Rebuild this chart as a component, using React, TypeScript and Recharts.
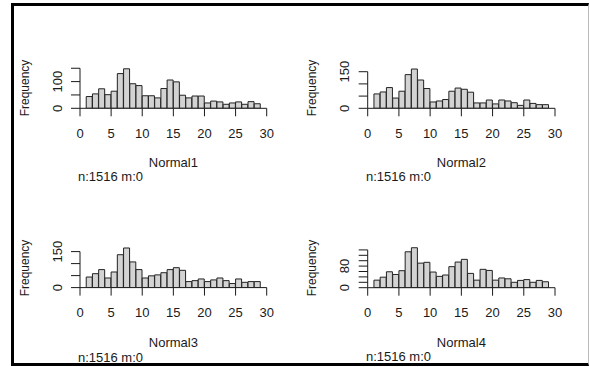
import React from 'react';
import { BarChart, Bar, XAxis, YAxis, ReferenceLine } from 'recharts';

const binMids = [1.5, 2.5, 3.5, 4.5, 5.5, 6.5, 7.5, 8.5, 9.5, 10.5, 11.5, 12.5, 13.5, 14.5, 15.5, 16.5, 17.5, 18.5, 19.5, 20.5, 21.5, 22.5, 23.5, 24.5, 25.5, 26.5, 27.5, 28.5];
const normal1 = [44, 54, 73, 51, 64, 130, 148, 92, 85, 47, 47, 39, 74, 106, 99, 49, 39, 46, 46, 20, 27, 24, 15, 20, 24, 15, 25, 17];
const normal2 = [59, 67, 85, 42, 70, 138, 161, 116, 81, 26, 30, 36, 70, 83, 78, 66, 22, 22, 34, 18, 34, 30, 23, 12, 34, 20, 15, 15];
const normal3 = [44, 58, 75, 40, 65, 137, 165, 107, 75, 40, 49, 53, 62, 75, 83, 72, 25, 29, 36, 25, 32, 40, 29, 17, 36, 22, 25, 25];
const normal4 = [28, 39, 59, 49, 63, 133, 148, 91, 94, 58, 42, 47, 78, 95, 105, 53, 28, 68, 64, 28, 36, 33, 20, 27, 30, 20, 27, 22];

const xTicks = [0, 5, 10, 15, 20, 25, 30];
const yTicks1 = [0, 50, 100, 150];
const yLabels1 = [0, 100];
const yTicks2 = [0, 50, 100, 150];
const yLabels2 = [0, 150];
const yTicks3 = [0, 50, 100, 150];
const yLabels3 = [0, 150];
const yTicks4 = [0, 20, 40, 60, 80, 100, 120, 140];
const yLabels4 = [0, 80];

const titles = ['Normal1', 'Normal2', 'Normal3', 'Normal4'];
const notes = ['n:1516 m:0', 'n:1516 m:0', 'n:1516 m:0', 'n:1516 m:0'];

const FONT = '"Liberation Sans", Arial, sans-serif';
const INK = '#1a1a1a';
const W = 590;
const H = 367;

type PanelCfg = {
  values: number[];
  yTicks: number[];
  yLabels: number[];
  title: string;
  note: string;
  left: number;
  right: number;
  baseline: number;
  top: number;
  yMax: number;
  freqX: number;
  freqY: number;
  titleY: number;
  noteX: number;
  noteY: number;
};

const YTick = (labels: number[]) => (props: any) => {
  const { x, y, payload } = props;
  const show = labels.includes(payload.value);
  const cx = x - 14;
  return (
    <g>
      {show && (
        <text
          x={cx}
          y={y}
          transform={`rotate(-90 ${cx} ${y})`}
          textAnchor="middle"
          dy="0.35em"
          fill={INK}
          fontSize={13}
          fontFamily={FONT}
        >
          {payload.value}
        </text>
      )}
    </g>
  );
};

function Panel({ cfg }: { cfg: PanelCfg }) {
  const data = binMids.map((m, i) => ({ mid: m, count: cfg.values[i] }));
  const yAxisW = 40;
  const xAxisH = 40;
  const margin = {
    top: cfg.top,
    left: cfg.left - yAxisW,
    right: W - cfg.right,
    bottom: H - cfg.baseline - xAxisH,
  };
  return (
    <>
      <div style={{ position: 'absolute', left: 0, top: 0 }}>
        <BarChart width={W} height={H} data={data} margin={margin} barCategoryGap={0} barGap={0}>
          <XAxis
            dataKey="mid"
            type="number"
            domain={[0, 30]}
            ticks={xTicks}
            interval={0}
            height={xAxisH}
            tickSize={8}
            tickMargin={12}
            stroke={INK}
            axisLine={{ stroke: INK }}
            tickLine={{ stroke: INK }}
            tick={{ fill: INK, fontSize: 13, fontFamily: FONT }}
            allowDataOverflow
          />
          <YAxis
            type="number"
            domain={[0, cfg.yMax]}
            ticks={cfg.yTicks}
            interval={0}
            width={yAxisW}
            tickSize={9}
            tickMargin={0}
            axisLine={false}
            tickLine={{ stroke: INK }}
            tick={YTick(cfg.yLabels)}
            allowDataOverflow
          />
          <ReferenceLine
            segment={[{ x: 0, y: 0 }, { x: 0, y: cfg.yTicks[cfg.yTicks.length - 1] }]}
            stroke={INK}
            strokeWidth={1}
          />
          <Bar dataKey="count" fill="#d3d3d3" stroke="#222" strokeWidth={1} isAnimationActive={false} />
        </BarChart>
      </div>
      <div
        style={{
          position: 'absolute',
          left: cfg.freqX,
          top: cfg.freqY,
          transform: 'translate(-50%, -50%) rotate(-90deg)',
          fontFamily: FONT,
          fontSize: 12,
          color: INK,
          whiteSpace: 'nowrap',
          lineHeight: '14px',
        }}
      >
        Frequency
      </div>
      <div
        style={{
          position: 'absolute',
          left: (cfg.left + cfg.right) / 2,
          top: cfg.titleY,
          transform: 'translate(-50%, -50%)',
          fontFamily: FONT,
          fontSize: 13,
          color: INK,
          whiteSpace: 'nowrap',
          lineHeight: '15px',
        }}
      >
        {cfg.title}
      </div>
      <div
        style={{
          position: 'absolute',
          left: cfg.noteX,
          top: cfg.noteY,
          transform: 'translateY(-50%)',
          fontFamily: FONT,
          fontSize: 13,
          color: INK,
          whiteSpace: 'nowrap',
          lineHeight: '15px',
        }}
      >
        {cfg.note}
      </div>
    </>
  );
}

const panels: PanelCfg[] = [
  { values: normal1, yTicks: yTicks1, yLabels: yLabels1, title: titles[0], note: notes[0], left: 80, right: 266.7, baseline: 108.3, top: 65, yMax: 162.2, freqX: 24.5, freqY: 88, titleY: 162, noteX: 78, noteY: 176 },
  { values: normal2, yTicks: yTicks2, yLabels: yLabels2, title: titles[1], note: notes[1], left: 367.7, right: 555, baseline: 108.3, top: 65, yMax: 177.5, freqX: 312, freqY: 88, titleY: 162, noteX: 366, noteY: 176 },
  { values: normal3, yTicks: yTicks3, yLabels: yLabels3, title: titles[2], note: notes[2], left: 80, right: 266.7, baseline: 287.6, top: 244.3, yMax: 180.4, freqX: 24.5, freqY: 268, titleY: 342, noteX: 78, noteY: 356.5 },
  { values: normal4, yTicks: yTicks4, yLabels: yLabels4, title: titles[3], note: notes[3], left: 367.7, right: 555, baseline: 287.7, top: 244.4, yMax: 160.4, freqX: 312, freqY: 268, titleY: 342, noteX: 366, noteY: 356 },
];

export default function App() {
  return (
    <div style={{ position: 'absolute', left: 0, top: 0, width: W, height: H, background: '#fff', overflow: 'hidden' }}>
      <div
        style={{
          position: 'absolute',
          left: 11,
          top: 3,
          width: 578,
          height: 363,
          boxSizing: 'border-box',
          borderTop: '3px solid #000',
          borderLeft: '3px solid #000',
          borderBottom: '3px solid #000',
          borderRight: '1px solid #bbb',
        }}
      />
      {panels.map((p, i) => (
        <Panel key={i} cfg={p} />
      ))}
    </div>
  );
}
